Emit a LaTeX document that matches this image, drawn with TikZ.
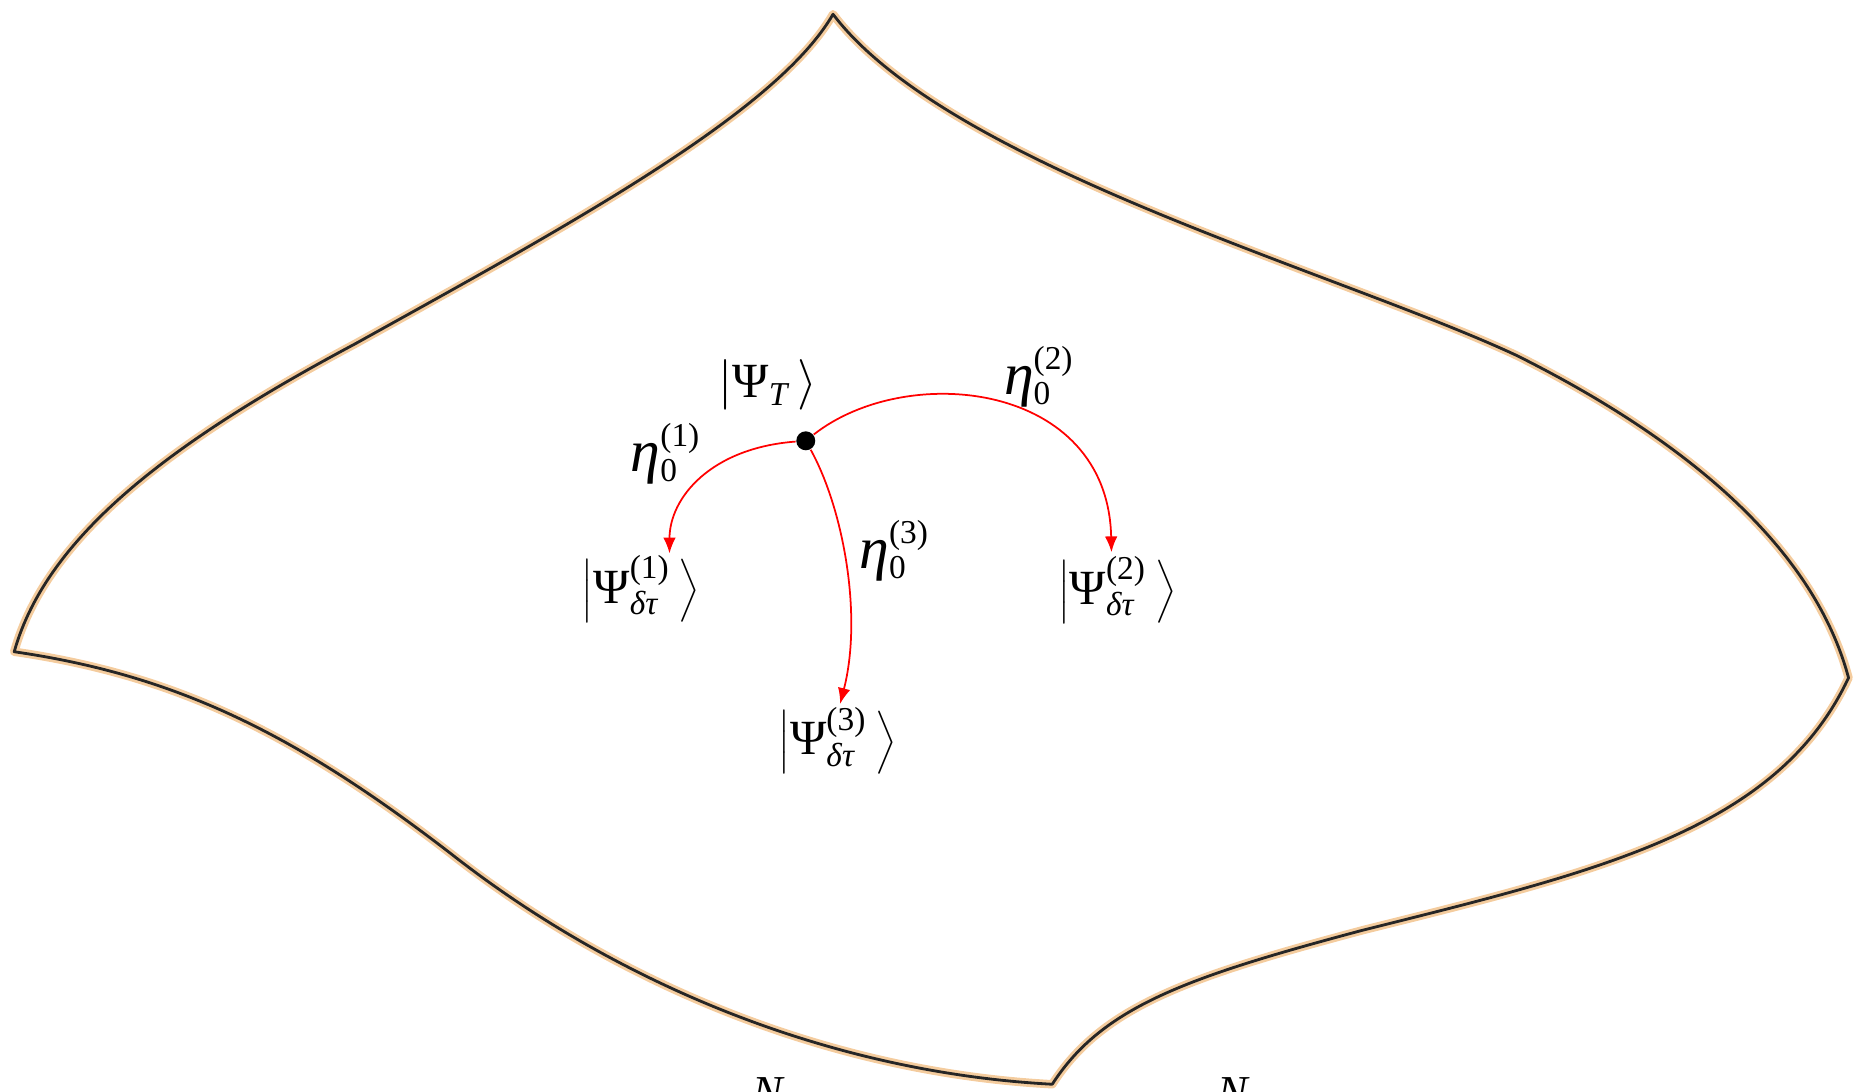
\documentclass[tikz,border=0pt]{standalone}
\usepackage{fontspec}
\setmainfont{Liberation Serif}
\usetikzlibrary{arrows.meta}
\definecolor{halo}{RGB}{244,204,158}
\newcommand{\sm}{\fontsize{9.5}{11}\selectfont}
\newcommand{\myket}[1]{$\left|\mbox{Ψ}^{\mbox{\sm(#1)}}_{\mbox{\sm\itshape δτ}}\,\right\rangle$}
\newcommand{\myeta}[1]{$\mbox{\fontsize{17}{18}\selectfont\itshape η}^{\mbox{\sm(#1)}}_{\mbox{\sm 0}}$}
\begin{document}
\begin{tikzpicture}[x=0.011849cm,y=-0.011849cm,
  outl/.style={line width=0.8pt,black!85,line join=round},
  haloline/.style={line width=2.4pt,halo,line join=round},
  arr/.style={red,line width=0.5pt,-{Latex[length=4.5pt,width=3.6pt]}},
  lbl/.style={inner sep=0pt,font=\fontsize{14}{16}\selectfont}]
\useasboundingbox (0,0) rectangle (1568,921);
\draw[outl,preaction={draw,haloline}] (703,12) .. controls (655,95) and (480,190) .. (300,290)
  .. controls (150,370) and (40,450) .. (12,550)
  .. controls (150,570) and (250,620) .. (380,720)
  .. controls (520,830) and (700,905) .. (888,915)
  .. controls (930,850) and (1000,825) .. (1150,785)
  .. controls (1350,735) and (1500,700) .. (1560,572)
  .. controls (1530,460) and (1420,370) .. (1280,300)
  .. controls (1130,230) and (800,140) .. (703,12) -- cycle;
\node[circle,fill=black,inner sep=0pt,minimum size=5.4pt] (d) at (680,372) {};
\node[lbl] (kT) at (648,325) {$\left|\mbox{Ψ}_{\mbox{\sm\itshape T}}\,\right\rangle$};
\node[lbl] (k1) at (541,497) {\myket{1}};
\node[lbl] (k2) at (943,498) {\myket{2}};
\node[lbl] (k3) at (707,625) {\myket{3}};
\node[lbl] (e1) at (562,383) {\myeta{1}};
\node[lbl] (e2) at (877,318) {\myeta{2}};
\node[lbl] (e3) at (755,465) {\myeta{3}};
\coordinate (t1) at (565,467);
\coordinate (t2) at (938,466);
\coordinate (t3) at (709,594);
\draw[arr] (d) .. controls (600,378) and (565,420) .. (t1);
\draw[arr] (d) .. controls (765,305) and (935,322) .. (t2);
\draw[arr] (d) .. controls (712,430) and (728,520) .. (t3);
\node[inner sep=0pt,anchor=north,font=\fontsize{13}{15}\selectfont\itshape] (n1) at (648,909) {N};
\node[inner sep=0pt,anchor=north,font=\fontsize{13}{15}\selectfont\itshape] (n2) at (1040,909) {N};
\end{tikzpicture}
\end{document}
